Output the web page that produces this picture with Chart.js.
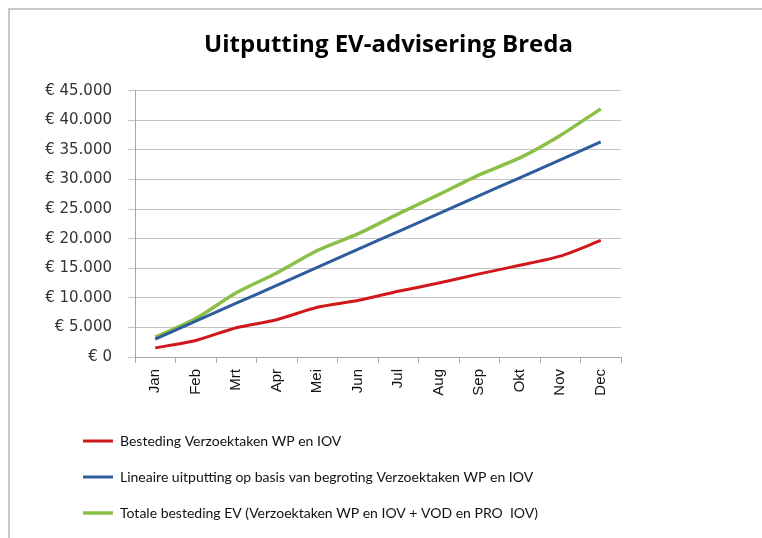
<!DOCTYPE html>
<html>
<head>
<meta charset="utf-8">
<script src="https://cdn.jsdelivr.net/npm/chart.js@4.4.1/dist/chart.umd.min.js"></script>
<style>
  html, body { margin: 0; padding: 0; background: #fff; }
  #frame { position: absolute; left: 8px; top: 8px; width: 800px; height: 600px;
           border-left: 2px solid #c8c8c8; border-top: 2px solid #c8c8c8; }
  #wrap { position: absolute; left: 0; top: 0; width: 762px; height: 538px; }
</style>
</head>
<body>
<div id="frame"></div>
<div id="wrap"><canvas id="myChart" width="762" height="538"></canvas></div>
<script>
var maanden = ['Jan', 'Feb', 'Mrt', 'Apr', 'Mei', 'Jun', 'Jul', 'Aug', 'Sep', 'Okt', 'Nov', 'Dec'];
var bestedingWP = [1550, 2800, 4950, 6300, 8400, 9550, 11100, 12500, 14050, 15500, 17050, 19700];
var lineairBegroot = [3030, 6060, 9090, 12120, 15150, 18180, 21210, 24240, 27270, 30300, 33330, 36360];
var totaalEV = [3350, 6500, 10850, 14200, 18000, 20800, 24200, 27450, 30800, 33650, 37450, 41950];
var yTicks = [0, 5000, 10000, 15000, 20000, 25000, 30000, 35000, 40000, 45000];

var calibriAchtig = 'Lato, "Open Sans", sans-serif';

function euro(v) {
  if (v === 0) return '\u20AC 0';
  return '\u20AC ' + v.toLocaleString('nl-NL');
}

// legenda en titel iets naar rechts schuiven, zoals in het origineel
var blokkenOpschuiven = {
  id: 'blokkenOpschuiven',
  afterLayout: function (chart) {
    chart.legend.left += 31;
    chart.legend.right += 31;
    chart.titleBlock.left += 63;
    chart.titleBlock.right += 63;
  }
};

var ctx = document.getElementById('myChart');
var myChart = new Chart(ctx, {
  type: 'line',
  data: {
    labels: maanden,
    datasets: [{
      label: 'Besteding Verzoektaken WP en IOV',
      data: bestedingWP,
      borderColor: '#d0181c',
      backgroundColor: '#d0181c',
      borderWidth: 3,
      pointRadius: 0,
      tension: 0.25
    }, {
      label: 'Lineaire uitputting op basis van begroting Verzoektaken WP en IOV',
      data: lineairBegroot,
      borderColor: '#2f5c9c',
      backgroundColor: '#2f5c9c',
      borderWidth: 3,
      pointRadius: 0,
      tension: 0.25
    }, {
      label: 'Totale besteding EV (Verzoektaken WP en IOV + VOD en PRO  IOV)',
      data: totaalEV,
      borderColor: '#8cbf46',
      backgroundColor: '#8cbf46',
      borderWidth: 3.5,
      pointRadius: 0,
      tension: 0.25
    }]
  },
  plugins: [blokkenOpschuiven],
  options: {
    responsive: false,
    maintainAspectRatio: false,
    animation: false,
    layout: { padding: { left: 30, right: 141, top: 0, bottom: 8 } },
    plugins: {
      title: {
        display: true,
        text: 'Uitputting EV-advisering Breda',
        color: '#000',
        font: { family: '"Open Sans", sans-serif', size: 24, weight: 'bold' },
        padding: { top: 31, bottom: 31 }
      },
      legend: {
        position: 'bottom',
        align: 'start',
        labels: {
          color: '#111',
          font: { family: calibriAchtig, size: 14 },
          usePointStyle: true,
          pointStyle: 'line',
          pointStyleWidth: 30,
          boxHeight: 14,
          padding: 22
        }
      },
      tooltip: { enabled: false }
    },
    scales: {
      x: {
        offset: true,
        afterFit: function (scale) { scale.height = 55; },
        grid: {
          offset: true,
          drawOnChartArea: false,
          drawTicks: true,
          tickLength: 6,
          color: '#a8a8a8'
        },
        border: { color: '#a8a8a8', width: 1 },
        ticks: {
          minRotation: 90,
          maxRotation: 90,
          color: '#111',
          padding: 6,
          font: { family: '"Liberation Sans", Arial, sans-serif', size: 15 }
        }
      },
      y: {
        min: 0,
        max: 45000,
        afterBuildTicks: function (scale) {
          scale.ticks = yTicks.map(function (v) { return { value: v }; });
        },
        afterFit: function (scale) { scale.width = 105; },
        grid: { color: '#c4c4c4', tickLength: 7 },
        border: { color: '#a8a8a8', width: 1 },
        ticks: {
          color: '#333',
          padding: 16,
          font: { family: '"DejaVu Sans", sans-serif', size: 15 },
          callback: function (v) { return euro(v); }
        }
      }
    }
  }
});
</script>
</body>
</html>
